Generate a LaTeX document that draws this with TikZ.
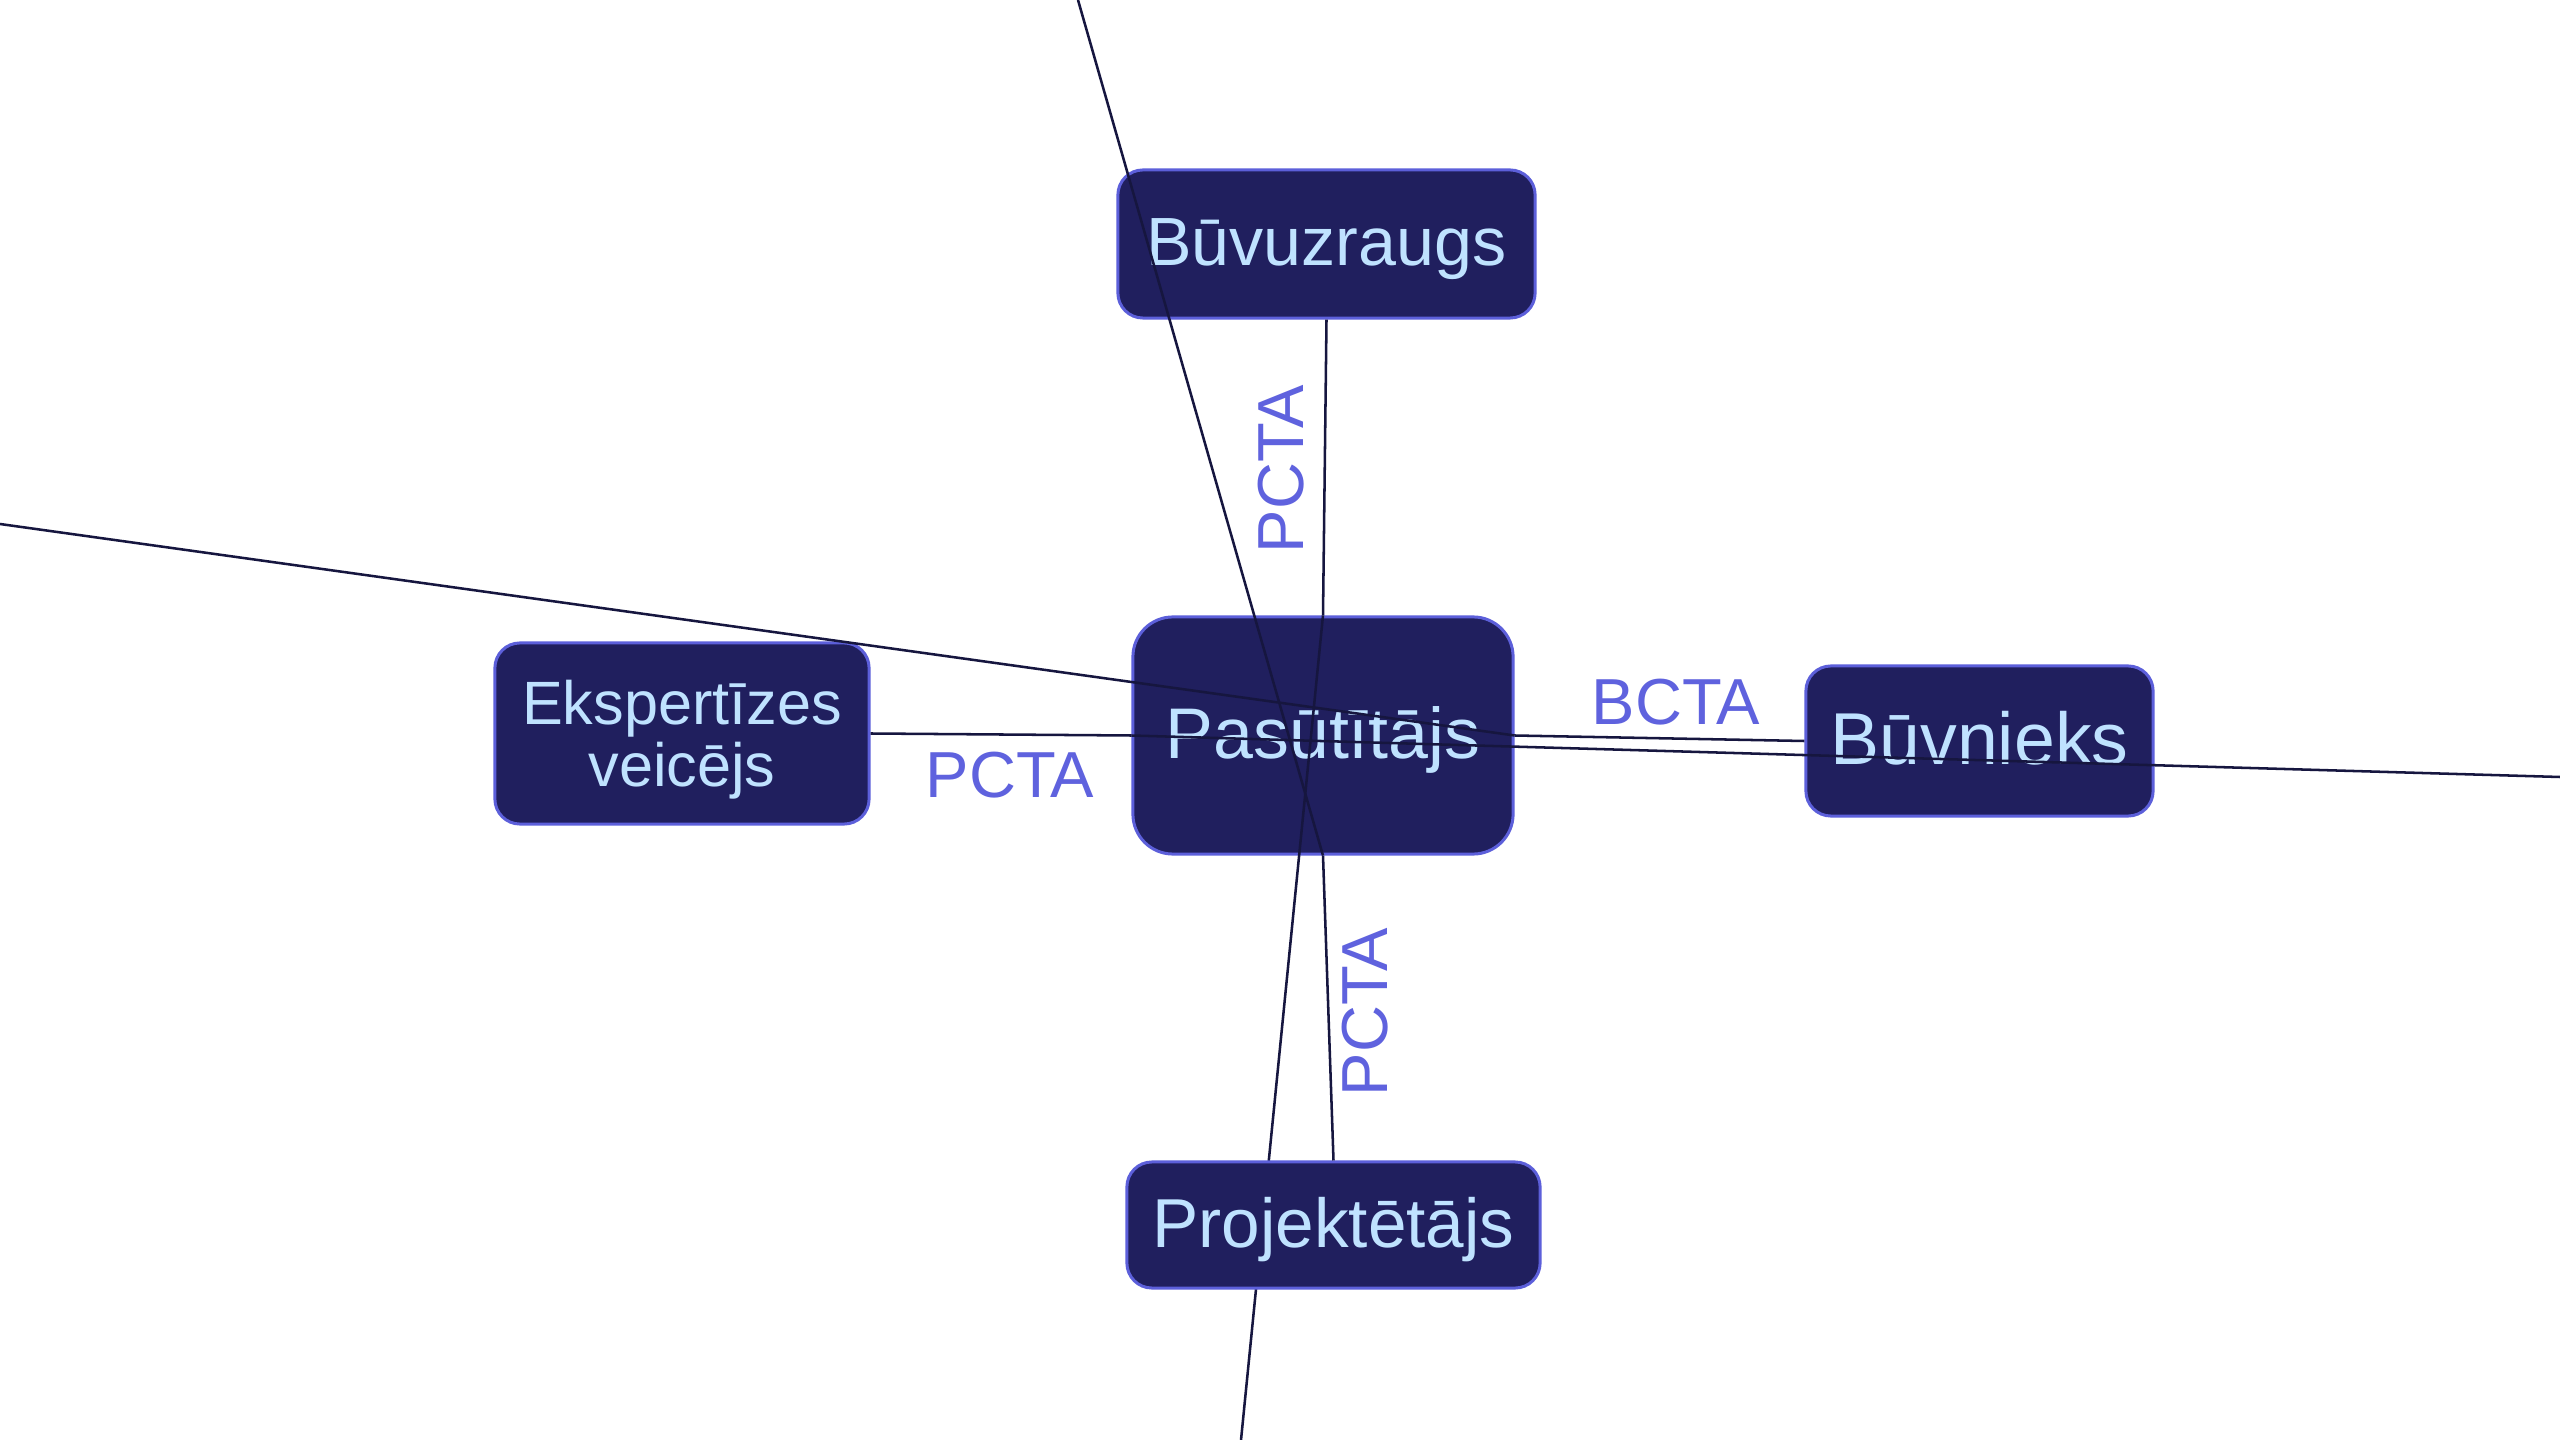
\documentclass[tikz,border=0pt]{standalone}
\usepackage{fontspec}
\setmainfont{Liberation Sans}
\definecolor{nodefill}{HTML}{201F5E}
\definecolor{nodeborder}{HTML}{5C5FDA}
\definecolor{nodetext}{HTML}{BFE2FF}
\definecolor{edgecol}{HTML}{16163F}
\definecolor{labelcol}{HTML}{5F62DE}
\begin{document}
\begin{tikzpicture}[x=0.01cm,y=-0.01cm,
  actor/.style={draw=nodeborder, fill=nodefill, text=nodetext, line width=0.85pt,
    rounded corners=0.25cm, inner sep=0pt, align=center},
  conn/.style={draw=edgecol, line width=0.72pt},
  lbl/.style={text=labelcol, font=\fontsize{18.5}{18.5}\selectfont, inner sep=0pt}]
\useasboundingbox[fill=white] (0,0) rectangle (2560,1440);

\node[actor, minimum width=4.17cm, minimum height=1.48cm, text height=13.9pt, text depth=1.5pt,
  font=\fontsize{19.4}{20}\selectfont] (buvuz) at (1326.5,244) {Būvuzraugs};
\node[actor, minimum width=3.80cm, minimum height=2.37cm, rounded corners=0.4cm,
  text height=14.6pt, text depth=1.6pt,
  font=\fontsize{20.4}{21}\selectfont] (pas) at (1323,735.5) {Pasūtītājs};
\node[actor, minimum width=3.74cm, minimum height=1.81cm, text depth=0pt,
  font=\fontsize{17.4}{17.6}\selectfont] (eks) at (682,733.5) {Ekspertīzes\\veicējs};
\node[actor, minimum width=3.47cm, minimum height=1.50cm, text height=15pt, text depth=1.6pt,
  font=\fontsize{20.9}{21}\selectfont] (buvn) at (1979.5,741) {Būvnieks};

\coordinate (farleft) at (0,524);
\coordinate (farright) at (2560,777);
\coordinate (fartop) at (1078,0);
\coordinate (farbottom) at (1241,1440);

\draw[conn] (eks.east) -- (pas.west);
\draw[conn] (buvuz.south) -- (pas.north);
\draw[conn] (pas.east) -- (buvn.west);
\draw[conn] (farleft) -- (pas.east);
\draw[conn] (pas.west) -- (farright);
\draw[conn] (fartop) -- (pas.south);
\draw[conn] (farbottom) -- (pas.north);

\node[actor, minimum width=4.13cm, minimum height=1.26cm, text height=14.1pt, text depth=1.5pt,
  font=\fontsize{19.7}{20}\selectfont] (proj) at (1333.5,1225) {Projektētājs};
\draw[conn] (pas.south) -- (proj.north);

\node[lbl, rotate=90] (l1) at (1281,469) {PCTA};
\node[lbl, rotate=90] (l2) at (1365,1012) {PCTA};
\node[lbl] (l3) at (1010,775) {PCTA};
\node[lbl] (l4) at (1676,702) {BCTA};
\end{tikzpicture}
\end{document}
